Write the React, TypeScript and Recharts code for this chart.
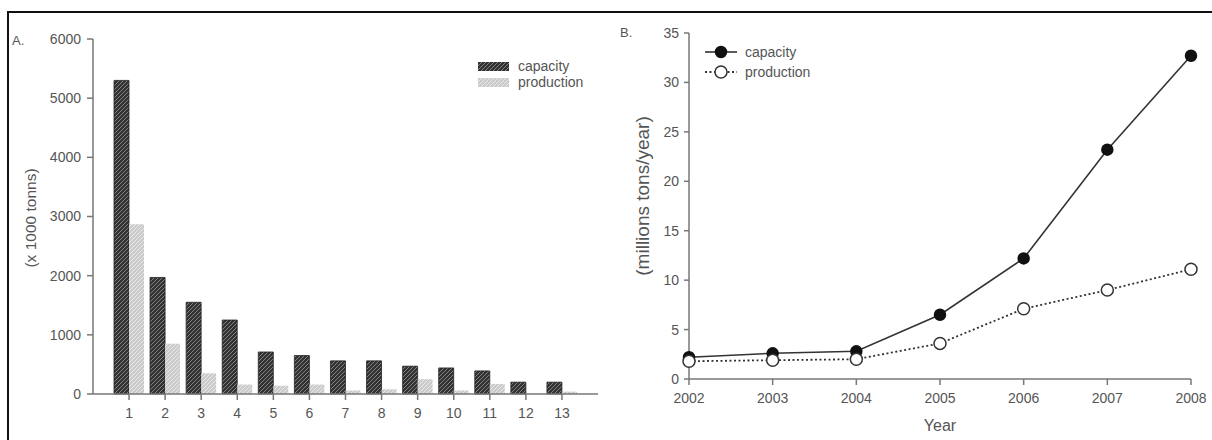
import { BarChart, Bar, LineChart, Line, XAxis, YAxis, Legend } from 'recharts';

const FONT = '"Liberation Sans", Arial, sans-serif';
const INK = '#555';
const AXIS = '#777';

// panel A: per-plant capacity / production (x 1000 tonns)
const plants = ['1', '2', '3', '4', '5', '6', '7', '8', '9', '10', '11', '12', '13'];
const plantCapacity = [5300, 1970, 1550, 1250, 710, 650, 560, 560, 470, 440, 390, 200, 200];
const plantProduction = [2870, 850, 350, 160, 140, 160, 60, 80, 250, 60, 170, 0, 40];
const tonnTicks = [0, 1000, 2000, 3000, 4000, 5000, 6000];

// panel B: yearly totals (millions tons/year)
const years = [2002, 2003, 2004, 2005, 2006, 2007, 2008];
const yearCapacity = [2.2, 2.6, 2.8, 6.5, 12.2, 23.2, 32.7];
const yearProduction = [1.8, 1.9, 2.0, 3.6, 7.1, 9.0, 11.1];
const rateTicks = [0, 5, 10, 15, 20, 25, 30, 35];

const barData = plants.map((plant, i) => ({
  plant,
  capacity: plantCapacity[i],
  production: plantProduction[i],
}));

const lineData = years.map((year, i) => ({
  year,
  capacity: yearCapacity[i],
  production: yearProduction[i],
}));

const HATCH: Record<string, string> = {
  capacity: 'url(#hatch-dark)',
  production: 'url(#hatch-light)',
};

const tickStyle = { fill: INK, fontSize: 14, fontFamily: FONT };

function SideTitle({ x, y, text, size }: { x: number; y: number; text: string; size: number }) {
  return (
    <text
      x={x}
      y={y}
      transform={`rotate(-90 ${x} ${y})`}
      textAnchor="middle"
      dominantBaseline="central"
      fill={INK}
      fontSize={size}
      fontFamily={FONT}
    >
      {text}
    </text>
  );
}

function BarKey({ payload }: any) {
  return (
    <div style={{ fontFamily: FONT, fontSize: 14, color: INK }}>
      {(payload ?? []).map((entry: any) => (
        <div key={entry.value} style={{ display: 'flex', alignItems: 'center', height: 16 }}>
          <svg width={31} height={9} style={{ display: 'block' }}>
            <rect width={31} height={9} fill={HATCH[entry.dataKey]} />
          </svg>
          <span style={{ marginLeft: 9 }}>{entry.value}</span>
        </div>
      ))}
    </div>
  );
}

function LineKey({ payload }: any) {
  return (
    <div style={{ fontFamily: FONT, fontSize: 14, color: INK }}>
      {(payload ?? []).map((entry: any) => {
        const open = entry.dataKey === 'production';
        return (
          <div key={entry.value} style={{ display: 'flex', alignItems: 'center', height: 20 }}>
            <svg width={32} height={14} style={{ display: 'block' }}>
              <line
                x1={0}
                y1={7}
                x2={32}
                y2={7}
                stroke="#333"
                strokeWidth={open ? 1.8 : 1.6}
                strokeDasharray={open ? '2 2.5' : undefined}
              />
              <circle
                cx={16}
                cy={7}
                r={open ? 6 : 5.5}
                fill={open ? '#fff' : '#111'}
                stroke={open ? '#333' : '#111'}
                strokeWidth={1.5}
              />
            </svg>
            <span style={{ marginLeft: 8 }}>{entry.value}</span>
          </div>
        );
      })}
    </div>
  );
}

export default function App() {
  return (
    <div
      style={{
        position: 'absolute',
        left: 0,
        top: 0,
        width: 1212,
        height: 440,
        background: '#fff',
        overflow: 'hidden',
        fontFamily: FONT,
      }}
    >
      {/* figure frame */}
      <div style={{ position: 'absolute', left: 7, top: 11, width: 1205, height: 2, background: '#111' }} />
      <div style={{ position: 'absolute', left: 7, top: 11, width: 2, height: 429, background: '#111' }} />
      <div style={{ position: 'absolute', left: 12, top: 33, fontSize: 13, color: INK }}>A.</div>
      <div style={{ position: 'absolute', left: 620, top: 25, fontSize: 13, color: INK }}>B.</div>

      <div style={{ position: 'absolute', left: 0, top: 0 }}>
        <BarChart
          width={620}
          height={440}
          data={barData}
          margin={{ top: 39, right: 22, bottom: 16, left: 33 }}
          barSize={15}
          barGap={0}
        >
          <defs>
            <pattern id="hatch-dark" patternUnits="userSpaceOnUse" width={4} height={4}>
              <rect width={4} height={4} fill="#333" />
              <path d="M-1,1 l2,-2 M0,4 l4,-4 M3,5 l2,-2" stroke="#8a8a8a" strokeWidth={0.9} />
            </pattern>
            <pattern id="hatch-light" patternUnits="userSpaceOnUse" width={4} height={4}>
              <rect width={4} height={4} fill="#cbcbcb" />
              <path d="M-1,1 l2,-2 M0,4 l4,-4 M3,5 l2,-2" stroke="#ebebeb" strokeWidth={0.9} />
            </pattern>
          </defs>
          <XAxis
            dataKey="plant"
            height={30}
            padding={{ left: 18, right: 18 }}
            tick={tickStyle}
            tickSize={6}
            tickMargin={8}
            stroke={AXIS}
            strokeWidth={1.5}
            interval={0}
          />
          <XAxis xAxisId="top" orientation="top" height={0} tick={false} tickLine={false} stroke={AXIS} strokeWidth={1.5} />
          <YAxis
            width={60}
            domain={[0, 6000]}
            ticks={tonnTicks}
            tick={tickStyle}
            tickSize={6}
            tickMargin={6}
            stroke={AXIS}
            strokeWidth={1.5}
            label={{ content: () => <SideTitle x={30} y={218} text="(x 1000 tonns)" size={15.5} /> }}
          />
          <YAxis yAxisId="right" orientation="right" width={0} tick={false} tickLine={false} stroke={AXIS} strokeWidth={1.5} />
          <Legend
            layout="vertical"
            align="center"
            verticalAlign="middle"
            wrapperStyle={{ left: 478, top: 58, width: 'auto' }}
            content={BarKey}
          />
          <Bar dataKey="capacity" name="capacity" fill={HATCH.capacity} stroke="#222" strokeWidth={0.8} isAnimationActive={false} />
          <Bar dataKey="production" name="production" fill={HATCH.production} isAnimationActive={false} />
        </BarChart>
      </div>

      <div style={{ position: 'absolute', left: 600, top: 0 }}>
        <LineChart
          width={612}
          height={440}
          data={lineData}
          margin={{ top: 33, right: 21, bottom: 6, left: 29 }}
        >
          <XAxis
            dataKey="year"
            type="number"
            domain={[2002, 2008]}
            ticks={years}
            height={55}
            tick={tickStyle}
            tickSize={6}
            tickMargin={8}
            stroke={AXIS}
            strokeWidth={1.5}
            label={{ value: 'Year', position: 'insideBottom', offset: 3, fill: INK, fontSize: 16, fontFamily: FONT }}
          />
          <XAxis xAxisId="top" orientation="top" height={0} tick={false} tickLine={false} stroke={AXIS} strokeWidth={1.5} />
          <YAxis
            width={60}
            domain={[0, 35]}
            ticks={rateTicks}
            tick={tickStyle}
            tickSize={5}
            tickMargin={5}
            stroke={AXIS}
            strokeWidth={1.5}
            label={{ content: () => <SideTitle x={42} y={196} text="(millions tons/year)" size={19} /> }}
          />
          <YAxis yAxisId="right" orientation="right" width={0} tick={false} tickLine={false} stroke={AXIS} strokeWidth={1.5} />
          <Legend
            layout="vertical"
            align="center"
            verticalAlign="middle"
            wrapperStyle={{ left: 105, top: 42, width: 'auto' }}
            content={LineKey}
          />
          <Line
            dataKey="capacity"
            name="capacity"
            type="linear"
            stroke="#333"
            strokeWidth={1.6}
            dot={{ r: 5.5, fill: '#111', stroke: '#111', strokeWidth: 1.5 }}
            isAnimationActive={false}
          />
          <Line
            dataKey="production"
            name="production"
            type="linear"
            stroke="#333"
            strokeWidth={1.8}
            strokeDasharray="2 2.5"
            dot={{ r: 6, fill: '#fff', stroke: '#333', strokeWidth: 1.5, strokeDasharray: '0' }}
            isAnimationActive={false}
          />
        </LineChart>
      </div>
    </div>
  );
}
